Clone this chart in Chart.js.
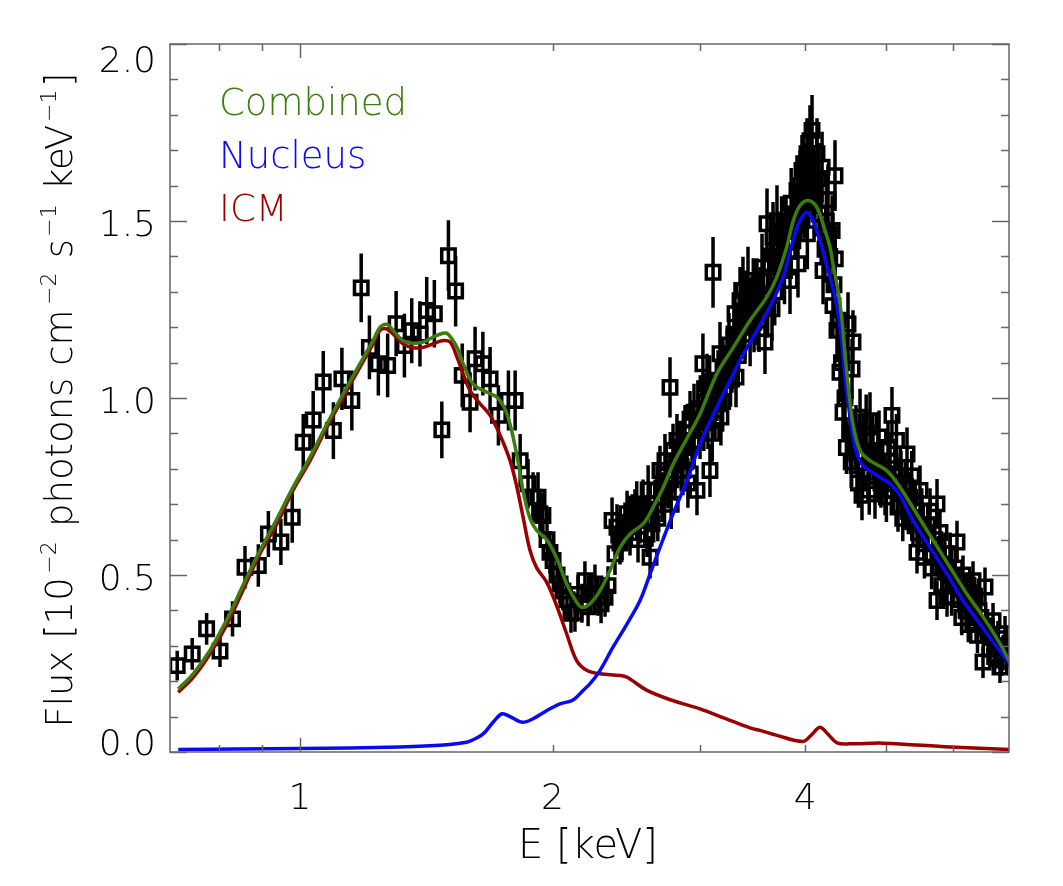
<!DOCTYPE html>
<html>
<head>
<meta charset="utf-8">
<script src="https://cdn.jsdelivr.net/npm/chart.js@4.4.1/dist/chart.umd.min.js"></script>
<style>
  html, body { margin: 0; padding: 0; background: #fff; }
</style>
</head>
<body>
<canvas id="myChart" width="1063" height="886"></canvas>
<script>
// observed spectrum: energy [keV], flux [1e-2 ph cm-2 s-1 keV-1], 1-sigma error
const specE = [
  0.714, 0.744, 0.774, 0.803, 0.831, 0.860, 0.892, 0.917, 0.949, 0.979,
  1.009, 1.037, 1.066, 1.096, 1.122, 1.153, 1.183, 1.210, 1.240, 1.272,
  1.302, 1.332, 1.359, 1.390, 1.416, 1.446, 1.476, 1.503, 1.533, 1.561,
  1.595, 1.617, 1.652, 1.685, 1.724, 1.772, 1.805, 1.830,
  1.870, 1.896, 1.922, 1.932, 1.948, 1.970, 1.986, 2.003, 2.025, 2.042,
  2.058, 2.081, 2.104, 2.127, 2.145, 2.168, 2.186, 2.205, 2.223, 2.247,
  2.266, 2.285, 2.310, 2.329, 2.355, 2.374, 2.387, 2.407, 2.420, 2.440,
  2.454, 2.474, 2.488, 2.508, 2.529, 2.543, 2.564, 2.592, 2.614, 2.628,
  2.650, 2.664, 2.686, 2.701, 2.723, 2.746, 2.761, 2.784, 2.799, 2.814,
  2.838, 2.861, 2.877, 2.893, 2.917, 2.933, 2.949, 2.973, 2.998, 3.022,
  3.039, 3.056, 3.064, 3.081, 3.107, 3.124, 3.141, 3.167, 3.175, 3.193,
  3.220, 3.246, 3.273, 3.300, 3.309, 3.327, 3.346, 3.373, 3.392, 3.420,
  3.439, 3.458, 3.477, 3.505, 3.525, 3.554, 3.583, 3.603, 3.623, 3.653,
  3.663, 3.703, 3.734, 3.765, 3.796, 3.838, 3.870, 3.912, 3.923, 3.945,
  3.966, 3.988, 4.021, 4.025, 4.054, 4.077, 4.099, 4.133, 4.156, 4.191,
  4.202, 4.225, 4.260, 4.308, 4.318, 4.342, 4.345, 4.366, 4.402, 4.439,
  4.463, 4.500, 4.525, 4.550, 4.562, 4.587, 4.612, 4.651, 4.676, 4.715,
  4.754, 4.780, 4.819, 4.846, 4.886, 4.926, 4.981, 5.022, 5.077, 5.119,
  5.162, 5.204, 5.247, 5.291, 5.334, 5.378, 5.438, 5.483, 5.528, 5.574,
  5.636, 5.682, 5.745, 5.745, 5.792, 5.840, 5.905, 5.954, 6.003, 6.069,
  6.119, 6.170, 6.221, 6.290, 6.342, 6.394, 6.447, 6.518, 6.554, 6.608,
  6.645, 6.700, 6.755, 6.829, 6.886, 6.924,
  // denser part of the cloud
  2.520, 2.580, 2.600, 2.670, 2.730, 2.770, 2.820, 2.860, 2.900, 2.950,
  2.980, 3.030, 3.070, 3.100, 3.150, 3.190, 3.230, 3.260, 3.290, 3.330,
  3.360, 3.400, 3.440, 3.470, 3.510, 3.540, 3.570, 3.610, 3.640, 3.680,
  3.720, 3.750, 3.780, 3.820, 3.850, 3.890, 3.940, 3.970, 4.000, 4.040,
  4.070, 4.110, 4.150, 4.180, 4.240, 4.280, 4.330, 4.380, 4.420,
  4.480, 4.540, 4.600, 4.630, 4.690, 4.730, 4.770, 4.800, 4.860, 4.900,
  4.950, 5.000, 5.050, 5.100, 5.140, 5.180, 5.230, 5.270, 5.310, 5.360,
  5.410, 5.460, 5.510, 5.550, 5.600, 5.660, 5.710, 5.770, 5.820, 5.870,
  5.930, 5.980, 6.040, 6.100, 6.150, 6.200, 6.260, 6.320, 6.370, 6.420,
  6.480, 6.580, 6.670, 6.730, 6.790, 6.860, 6.960
];
const specF = [
  0.244, 0.277, 0.348, 0.285, 0.376, 0.522, 0.527, 0.616, 0.593, 0.663,
  0.875, 0.938, 1.045, 0.908, 1.054, 0.993, 1.311, 1.143, 1.097, 1.092,
  1.210, 1.148, 1.190, 1.181, 1.247, 1.238, 0.910, 1.402, 1.302, 1.064,
  0.988, 1.111, 1.097, 1.054, 0.951, 0.993, 0.993, 0.823,
  0.758, 0.720, 0.720, 0.673, 0.668, 0.600, 0.564, 0.541, 0.500, 0.475,
  0.455, 0.430, 0.392, 0.395, 0.445, 0.420, 0.484, 0.410, 0.447, 0.475,
  0.440, 0.419, 0.437, 0.470, 0.654, 0.560, 0.635, 0.590, 0.607, 0.640,
  0.673, 0.620, 0.663, 0.677, 0.600, 0.654, 0.700, 0.616, 0.550, 0.645,
  0.700, 0.739, 0.795, 0.720, 0.823, 0.758, 1.030, 0.852, 0.780, 0.880,
  0.861, 0.795, 0.900, 0.823, 0.940, 0.871, 0.960, 0.739, 0.908, 1.097,
  0.990, 1.040, 0.936, 0.795, 1.355, 0.965, 1.020, 1.125, 0.946, 1.087,
  1.050, 1.150, 1.100, 1.238, 1.059, 1.180, 1.275, 1.304, 1.200, 1.332,
  1.250, 1.256, 1.219, 1.300, 1.220, 1.369, 1.158, 1.492, 1.330, 1.252,
  1.454, 1.501, 1.426, 1.388, 1.470, 1.332, 1.520, 1.586, 1.379, 1.600,
  1.643, 1.550, 1.690, 1.464, 1.727, 1.756, 1.600, 1.690, 1.520, 1.652,
  1.360, 1.420, 1.560, 1.473, 1.261, 1.628, 1.393, 1.191, 1.073, 0.960,
  1.000, 1.209, 0.900, 1.082, 1.158, 0.870, 0.809, 0.946, 0.725, 0.880,
  0.780, 0.936, 0.850, 0.729, 0.820, 0.760, 0.739, 0.860, 0.951, 0.800,
  0.692, 0.780, 0.700, 0.842, 0.720, 0.650, 0.564, 0.739, 0.640, 0.600,
  0.680, 0.560, 0.701, 0.428, 0.620, 0.520, 0.437, 0.560, 0.480, 0.593,
  0.430, 0.500, 0.400, 0.450, 0.484, 0.360, 0.400, 0.254, 0.466, 0.330,
  0.290, 0.371, 0.300, 0.240, 0.280, 0.334,
  0.700, 0.660, 0.740, 0.660, 0.780, 0.700, 0.820, 0.860, 0.760, 0.880,
  0.970, 0.930, 1.000, 0.900, 1.050, 0.990, 1.120, 1.060, 1.170, 1.120,
  1.210, 1.270, 1.180, 1.300, 1.240, 1.280, 1.330, 1.260, 1.380, 1.300,
  1.400, 1.470, 1.360, 1.440, 1.550, 1.490, 1.520, 1.580, 1.620, 1.580,
  1.650, 1.560, 1.620, 1.480, 1.500, 1.400, 1.320, 1.220, 1.100,
  0.860, 0.820, 0.900, 0.760, 0.840, 0.930, 0.740, 0.880, 0.790, 0.890,
  0.800, 0.720, 0.820, 0.740, 0.880, 0.760, 0.660, 0.750, 0.680, 0.780,
  0.700, 0.620, 0.680, 0.550, 0.640, 0.520, 0.600, 0.550, 0.470, 0.560,
  0.500, 0.440, 0.520, 0.460, 0.380, 0.450, 0.360, 0.410, 0.440, 0.330,
  0.380, 0.350, 0.330, 0.270, 0.320, 0.260, 0.300
];
const specErr = [
  0.042, 0.045, 0.045, 0.045, 0.050, 0.060, 0.060, 0.065, 0.065, 0.072,
  0.080, 0.082, 0.088, 0.080, 0.088, 0.085, 0.097, 0.090, 0.090, 0.090,
  0.092, 0.090, 0.092, 0.092, 0.095, 0.095, 0.080, 0.100, 0.100, 0.090,
  0.085, 0.090, 0.090, 0.090, 0.085, 0.085, 0.085, 0.075,
  0.070, 0.070, 0.070, 0.065, 0.065, 0.060, 0.060, 0.060, 0.055, 0.055,
  0.055, 0.055, 0.055, 0.055, 0.055, 0.055, 0.055, 0.055, 0.055, 0.055,
  0.055, 0.055, 0.055, 0.055, 0.065, 0.060, 0.065, 0.060, 0.065, 0.065,
  0.065, 0.065, 0.065, 0.065, 0.065, 0.065, 0.070, 0.065, 0.060, 0.065,
  0.070, 0.070, 0.070, 0.070, 0.075, 0.070, 0.085, 0.075, 0.070, 0.075,
  0.075, 0.070, 0.080, 0.075, 0.080, 0.075, 0.080, 0.070, 0.080, 0.085,
  0.080, 0.085, 0.080, 0.075, 0.100, 0.080, 0.085, 0.090, 0.080, 0.085,
  0.085, 0.090, 0.085, 0.090, 0.085, 0.090, 0.095, 0.095, 0.090, 0.095,
  0.090, 0.090, 0.090, 0.095, 0.090, 0.095, 0.090, 0.100, 0.095, 0.090,
  0.100, 0.100, 0.100, 0.095, 0.100, 0.095, 0.100, 0.100, 0.095, 0.100,
  0.100, 0.100, 0.100, 0.100, 0.100, 0.100, 0.100, 0.100, 0.100, 0.100,
  0.095, 0.095, 0.100, 0.100, 0.090, 0.100, 0.095, 0.090, 0.085, 0.080,
  0.080, 0.090, 0.080, 0.085, 0.090, 0.075, 0.075, 0.080, 0.070, 0.075,
  0.070, 0.080, 0.075, 0.070, 0.075, 0.070, 0.070, 0.075, 0.080, 0.075,
  0.070, 0.070, 0.070, 0.075, 0.070, 0.065, 0.060, 0.070, 0.065, 0.065,
  0.065, 0.060, 0.070, 0.055, 0.065, 0.060, 0.055, 0.060, 0.055, 0.060,
  0.055, 0.055, 0.055, 0.055, 0.055, 0.050, 0.055, 0.045, 0.055, 0.050,
  0.050, 0.050, 0.050, 0.045, 0.050, 0.050,
  0.065, 0.065, 0.070, 0.065, 0.070, 0.070, 0.075, 0.075, 0.070, 0.075,
  0.080, 0.080, 0.080, 0.080, 0.085, 0.085, 0.085, 0.085, 0.090, 0.090,
  0.090, 0.090, 0.090, 0.095, 0.090, 0.090, 0.095, 0.090, 0.095, 0.095,
  0.095, 0.100, 0.095, 0.100, 0.100, 0.100, 0.100, 0.100, 0.100, 0.100,
  0.100, 0.100, 0.100, 0.100, 0.100, 0.095, 0.095, 0.090, 0.085,
  0.075, 0.075, 0.080, 0.070, 0.075, 0.080, 0.070, 0.075, 0.075, 0.075,
  0.075, 0.070, 0.075, 0.070, 0.075, 0.070, 0.065, 0.070, 0.065, 0.070,
  0.070, 0.065, 0.065, 0.060, 0.065, 0.060, 0.065, 0.060, 0.055, 0.060,
  0.055, 0.055, 0.055, 0.055, 0.050, 0.055, 0.050, 0.055, 0.055, 0.050,
  0.050, 0.050, 0.050, 0.045, 0.050, 0.045, 0.050
];

// model curves
const combinedE = [
  0.716, 0.746, 0.781, 0.819, 0.855, 0.896, 0.939, 0.981, 1.028, 1.077,
  1.126, 1.179, 1.222, 1.246, 1.270, 1.291, 1.327, 1.364, 1.402, 1.441,
  1.481, 1.501, 1.539, 1.565, 1.608, 1.671, 1.718, 1.765, 1.813, 1.846,
  1.880, 1.915, 1.968, 2.025, 2.079, 2.137, 2.167, 2.217, 2.278, 2.342,
  2.407, 2.474, 2.566, 2.637, 2.711, 2.786, 2.891, 2.998, 3.139, 3.285,
  3.439, 3.600, 3.700, 3.803, 3.873, 3.945, 4.036, 4.130, 4.225, 4.283,
  4.318, 4.378, 4.427, 4.463, 4.500, 4.562, 4.651, 4.780, 5.004, 5.190,
  5.433, 5.687, 5.953, 6.233, 6.523, 6.829, 7.000
];
const combinedF = [
  0.178, 0.221, 0.287, 0.376, 0.470, 0.569, 0.659, 0.748, 0.833, 0.927,
  1.012, 1.097, 1.162, 1.200, 1.208, 1.191, 1.162, 1.155, 1.158, 1.172,
  1.183, 1.181, 1.143, 1.097, 1.040, 1.016, 1.002, 0.955, 0.840, 0.735,
  0.660, 0.626, 0.600, 0.545, 0.475, 0.423, 0.409, 0.419, 0.456, 0.513,
  0.578, 0.616, 0.645, 0.692, 0.748, 0.814, 0.885, 0.955, 1.068, 1.143,
  1.219, 1.285, 1.341, 1.426, 1.501, 1.544, 1.558, 1.539, 1.473, 1.426,
  1.379, 1.304, 1.219, 1.125, 1.040, 0.927, 0.852, 0.823, 0.795, 0.748,
  0.673, 0.597, 0.522, 0.447, 0.381, 0.306, 0.258
];
const nucleusE = [
  0.716, 1.000, 1.316, 1.469, 1.552, 1.595, 1.653, 1.699, 1.741, 1.780,
  1.840, 1.896, 1.986, 2.042, 2.116, 2.175, 2.217, 2.278, 2.361, 2.454,
  2.543, 2.614, 2.686, 2.784, 2.893, 2.998, 3.141, 3.255, 3.346, 3.506,
  3.663, 3.765, 3.870, 3.945, 4.021, 4.088, 4.190, 4.248, 4.319, 4.378,
  4.427, 4.463, 4.500, 4.550, 4.613, 4.689, 4.873, 5.050, 5.190, 5.379,
  5.636, 5.905, 6.169, 6.464, 6.774, 7.000
];
const nucleusF = [
  0.007, 0.010, 0.014, 0.019, 0.025, 0.031, 0.051, 0.084, 0.108, 0.100,
  0.084, 0.094, 0.122, 0.136, 0.147, 0.174, 0.193, 0.230, 0.296, 0.362,
  0.428, 0.503, 0.578, 0.673, 0.767, 0.870, 0.975, 1.049, 1.106, 1.191,
  1.275, 1.341, 1.445, 1.501, 1.525, 1.501, 1.426, 1.370, 1.310, 1.240,
  1.150, 1.060, 0.990, 0.908, 0.842, 0.809, 0.781, 0.758, 0.725, 0.654,
  0.578, 0.503, 0.428, 0.362, 0.296, 0.250
];
const icmE = [
  0.716, 0.746, 0.781, 0.819, 0.855, 0.896, 0.939, 0.981, 1.028, 1.077,
  1.126, 1.179, 1.222, 1.246, 1.270, 1.291, 1.327, 1.364, 1.402, 1.441,
  1.476, 1.510, 1.539, 1.565, 1.595, 1.639, 1.685, 1.732, 1.780, 1.813,
  1.846, 1.880, 1.915, 1.968, 2.025, 2.079, 2.137, 2.199, 2.278, 2.407,
  2.454, 2.592, 2.784, 2.998, 3.211, 3.439, 3.535, 3.703, 3.977, 4.077,
  4.167, 4.260, 4.366, 4.525, 4.954, 5.953, 7.000
];
const icmF = [
  0.169, 0.211, 0.277, 0.362, 0.456, 0.560, 0.645, 0.739, 0.823, 0.918,
  1.002, 1.087, 1.153, 1.191, 1.195, 1.181, 1.153, 1.142, 1.143, 1.153,
  1.162, 1.158, 1.115, 1.068, 1.021, 0.984, 0.951, 0.895, 0.823, 0.750,
  0.660, 0.570, 0.520, 0.480, 0.410, 0.334, 0.258, 0.230, 0.221, 0.216,
  0.211, 0.174, 0.145, 0.122, 0.095, 0.068, 0.061, 0.047, 0.030, 0.050,
  0.070, 0.050, 0.026, 0.023, 0.025, 0.014, 0.007
];

// axes
const xRange = [0.7, 7];
const yRange = [0, 2];
const xTickLabels = [1, 2, 4];
const xMajorMarks = [1];
const xMinorMarks = [0.8, 0.9, 2, 3, 4, 5, 6];
const yTickLabels = ["0.0", "0.5", "1.0", "1.5", "2.0"];
const yMajorMarks = [0, 0.5, 1, 1.5, 2];
const yMinorMarks = [0.1, 0.2, 0.3, 0.4, 0.6, 0.7, 0.8, 0.9, 1.1, 1.2, 1.3, 1.4, 1.6, 1.7, 1.8, 1.9];

const legendNames = ["Combined", "Nucleus", "ICM"];
const green = "#3b7d0e";
const blue = "#0a0af0";
const red = "#990000";
const legendColors = [green, blue, red];

const FONT = '"DejaVu Sans", sans-serif';

function pts(xs, ys) {
  return xs.map((e, i) => ({ x: e, y: ys[i] }));
}

const errorBars = {
  id: "errorBars",
  beforeDatasetsDraw(chart) {
    const { ctx, chartArea, scales } = chart;
    ctx.save();
    ctx.beginPath();
    ctx.rect(chartArea.left, chartArea.top, chartArea.width, chartArea.height);
    ctx.clip();
    ctx.strokeStyle = "#000";
    ctx.lineWidth = 3.5;
    ctx.beginPath();
    specE.forEach((e, i) => {
      const px = scales.x.getPixelForValue(e);
      ctx.moveTo(px, scales.y.getPixelForValue(specF[i] - specErr[i]));
      ctx.lineTo(px, scales.y.getPixelForValue(specF[i] + specErr[i]));
    });
    ctx.stroke();
    ctx.restore();
  }
};

// IDL-like frame: inward ticks on all four sides, labels, titles, text legend
const frame = {
  id: "frame",
  afterDraw(chart) {
    const { ctx, chartArea: a, scales } = chart;
    const xs = scales.x, ys = scales.y;
    ctx.save();
    ctx.strokeStyle = "#666";
    ctx.lineWidth = 1.5;
    ctx.strokeRect(a.left, a.top, a.right - a.left, a.bottom - a.top);

    ctx.beginPath();
    const xTick = (v, len) => {
      const p = Math.round(xs.getPixelForValue(v)) + 0.5;
      ctx.moveTo(p, a.bottom); ctx.lineTo(p, a.bottom - len);
      ctx.moveTo(p, a.top); ctx.lineTo(p, a.top + len);
    };
    const yTick = (v, len) => {
      const p = Math.round(ys.getPixelForValue(v)) + 0.5;
      ctx.moveTo(a.left, p); ctx.lineTo(a.left + len, p);
      ctx.moveTo(a.right, p); ctx.lineTo(a.right - len, p);
    };
    xMajorMarks.forEach(v => xTick(v, 14));
    xMinorMarks.forEach(v => xTick(v, 7));
    yMajorMarks.forEach(v => yTick(v, 17));
    yMinorMarks.forEach(v => yTick(v, 8));
    ctx.stroke();

    ctx.fillStyle = "#000";
    ctx.font = "200 36px " + FONT;
    ctx.textAlign = "center";
    ctx.textBaseline = "alphabetic";
    xTickLabels.forEach(v => {
      ctx.fillText(String(v), xs.getPixelForValue(v), a.bottom + 57);
    });
    ctx.textAlign = "right";
    yTickLabels.forEach((t, i) => {
      let b = ys.getPixelForValue(yMajorMarks[i]) + 14.5;
      b = Math.max(a.top + 28, Math.min(a.bottom + 2.5, b));
      ctx.fillText(t, a.left - 14, b);
    });

    // x title
    ctx.textAlign = "center";
    ctx.font = "200 40px " + FONT;
    ctx.fillText("E [keV]", 588, 858);

    // y title with superscripts, rotated
    const parts = [
      ["Flux [10", false], ["\u22122", true], [" photons cm", false], ["\u22122", true],
      [" s", false], ["\u22121", true], [" keV", false], ["\u22121", true], ["]", false]
    ];
    const bigF = "200 37px " + FONT, supF = "200 22px " + FONT;
    let total = 0;
    parts.forEach(([t, s]) => { ctx.font = s ? supF : bigF; total += ctx.measureText(t).width + (s ? 4 : 0); });
    const stretch = 655 / total;
    ctx.translate(72, 400);
    ctx.rotate(-Math.PI / 2);
    ctx.textAlign = "left";
    let cx = -655 / 2;
    parts.forEach(([t, s]) => {
      ctx.font = s ? supF : bigF;
      const w = ctx.measureText(t).width + (s ? 4 : 0);
      ctx.fillText(t, cx + (s ? 2 : 0), s ? -16 : 0);
      cx += w * stretch;
    });
    ctx.setTransform(1, 0, 0, 1, 0, 0);

    // legend as coloured words
    ctx.textAlign = "left";
    ctx.font = "200 37px " + FONT;
    const base = [115, 168, 221];
    legendNames.forEach((n, i) => {
      ctx.fillStyle = legendColors[i];
      ctx.fillText(n, 219, base[i]);
    });
    ctx.restore();
  }
};

new Chart(document.getElementById("myChart"), {
  type: "scatter",
  data: {
    datasets: [
      {
        label: "Combined",
        data: pts(combinedE, combinedF),
        showLine: true,
        borderColor: green,
        borderWidth: 3.5,
        pointRadius: 0,
        tension: 0.35,
        order: 0
      },
      {
        label: "Nucleus",
        data: pts(nucleusE, nucleusF),
        showLine: true,
        borderColor: blue,
        borderWidth: 3.5,
        pointRadius: 0,
        tension: 0.35,
        order: 1
      },
      {
        label: "ICM",
        data: pts(icmE, icmF),
        showLine: true,
        borderColor: red,
        borderWidth: 3.5,
        pointRadius: 0,
        tension: 0.35,
        order: 2
      },
      {
        label: "Data",
        data: pts(specE, specF),
        pointStyle: "rect",
        pointRadius: 9.5,
        borderWidth: 3.5,
        borderColor: "#000",
        backgroundColor: "rgba(0,0,0,0)",
        order: 3
      }
    ]
  },
  options: {
    responsive: false,
    animation: false,
    devicePixelRatio: 1,
    layout: { padding: { left: 170, right: 54, top: 44, bottom: 134 } },
    scales: {
      x: { type: "logarithmic", min: xRange[0], max: xRange[1], display: false },
      y: { type: "linear", min: yRange[0], max: yRange[1], display: false }
    },
    plugins: {
      legend: { display: false },
      tooltip: { enabled: false }
    }
  },
  plugins: [errorBars, frame]
});
</script>
</body>
</html>
